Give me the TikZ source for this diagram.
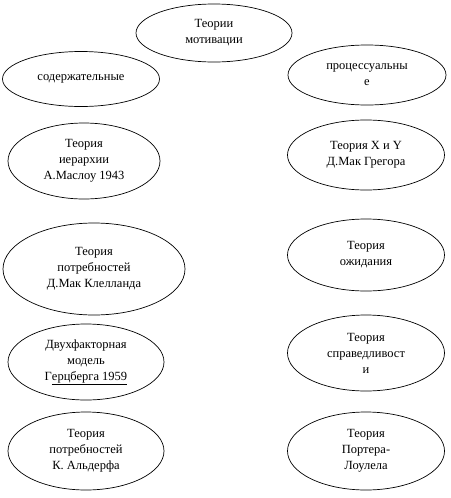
\documentclass[tikz,border=0pt]{standalone}
\usepackage{fontspec}
\setmainfont{Liberation Serif}
\usepackage{tikz}
\usetikzlibrary{shapes}

\tikzset{
  theory/.style={ellipse, draw, line width=0.7pt, inner sep=0pt, align=center,
    font=\fontsize{12.5}{16}\selectfont},
}

\begin{document}
\begin{tikzpicture}[x=1pt, y=-1pt]
  \useasboundingbox (0,0) rectangle (450,498);
  \node[theory, minimum width=156, minimum height=58] (root) at (214,33) {Теории\\мотивации};
  \node[theory, minimum width=157, minimum height=55] (content) at (81,79) {содержательные};
  \node[theory, minimum width=158, minimum height=60] (process) at (367,75) {процессуальны\\е};

  % left column
  \node[theory, minimum width=152, minimum height=76] (maslow) at (84,161) {Теория\\иерархии\\А.Маслоу 1943};
  \node[theory, minimum width=182, minimum height=92] (mcclelland) at (94,269) {Теория\\потребностей\\Д.Мак Клелланда};
  \node[theory, minimum width=156, minimum height=76] (herzberg) at (86,362) {Двухфакторная\\модель\\Г\underline{ерцберга 1959}};
  \node[theory, minimum width=156, minimum height=78] (alderfer) at (86,451) {Теория\\потребностей\\К. Альдерфа};

  % right column
  \node[theory, minimum width=157, minimum height=70] (mcgregor) at (366,155) {Теория X и Y\\Д.Мак Грегора};
  \node[theory, minimum width=157, minimum height=72] (vroom) at (366,255) {Теория\\ожидания};
  \node[theory, minimum width=157, minimum height=76] (equity) at (366,353) {Теория\\справедливост\\и};
  \node[theory, minimum width=157, minimum height=78] (porter) at (366,451) {Теория\\Портера-\\Лоулела};
\end{tikzpicture}
\end{document}
